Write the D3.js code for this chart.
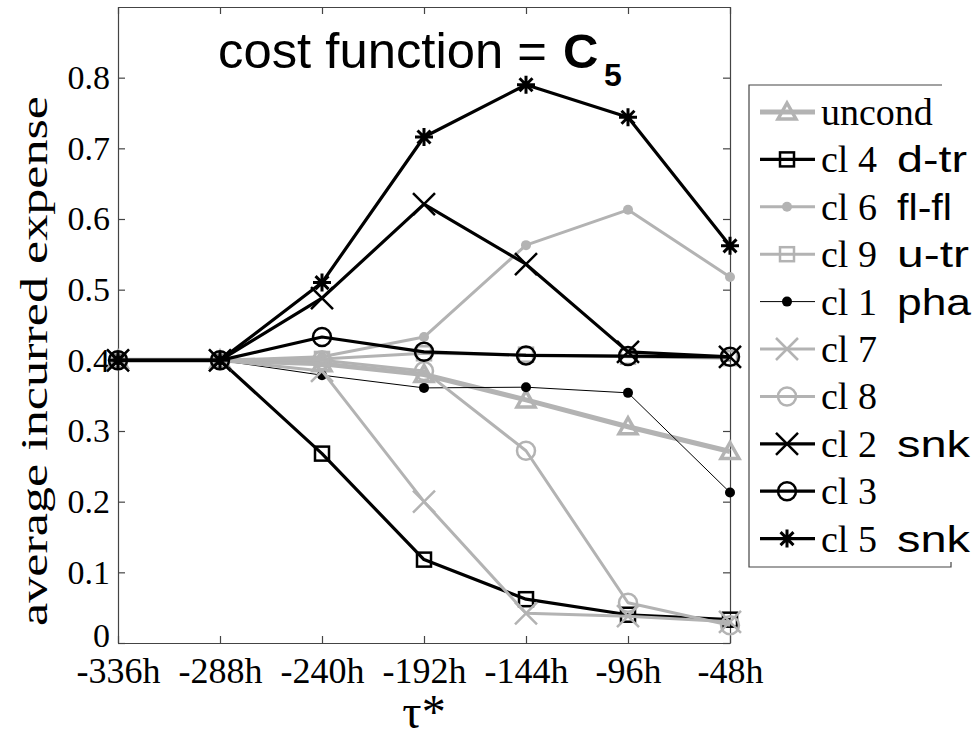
<!DOCTYPE html>
<meta charset="utf-8">
<head>
  <title>average incurred expense, cost function C5</title>
</head>

<style>
body { margin: 0; background: #fff; }
svg { display: block; }
</style>

<body>
  <div id="content">
    <svg width="980" height="741"></svg>
  </div>

  <script src="https://cdnjs.cloudflare.com/ajax/libs/d3/7.8.5/d3.min.js"></script>

  <script>
var width = 980, height = 741
var SERIF = '"Liberation Serif", "Times New Roman", Times, serif'
var SANS = '"Liberation Sans", Arial, Helvetica, sans-serif'

// lead times (hours before event)
var taus = [-336, -288, -240, -192, -144, -96, -48]
var tauLabels = ['-336h', '-288h', '-240h', '-192h', '-144h', '-96h', '-48h']
var yTicks = [0, 0.1, 0.2, 0.3, 0.4, 0.5, 0.6, 0.7, 0.8]

// one array per cluster
var uncond = [0.40, 0.40, 0.395, 0.38, 0.344, 0.306, 0.271]
var cl4 = [0.40, 0.40, 0.268, 0.118, 0.062, 0.040, 0.033]
var cl6 = [0.40, 0.40, 0.405, 0.433, 0.563, 0.613, 0.518]
var cl9 = [0.40, 0.40, 0.402, 0.410, 0.408, 0.405, 0.403]
var cl1 = [0.40, 0.40, 0.379, 0.361, 0.362, 0.354, 0.213]
var cl7 = [0.40, 0.40, 0.385, 0.200, 0.042, 0.038, 0.030]
var cl8 = [0.40, 0.40, 0.400, 0.385, 0.272, 0.057, 0.025]
var cl2 = [0.40, 0.40, 0.488, 0.621, 0.536, 0.412, 0.405]
var cl3 = [0.40, 0.40, 0.433, 0.412, 0.407, 0.406, 0.405]
var cl5 = [0.40, 0.40, 0.510, 0.716, 0.790, 0.744, 0.562]

var grey = '#b3b3b3'
var series = [
  {name: 'uncond', tag: '', values: uncond, color: grey, lw: 5, marker: 'triangle'},
  {name: 'cl 4', tag: 'd-tr', tagLen: 70, values: cl4, color: '#000', lw: 3.2, marker: 'square'},
  {name: 'cl 6', tag: 'fl-fl', tagLen: 55, values: cl6, color: grey, lw: 3, marker: 'dot'},
  {name: 'cl 9', tag: 'u-tr', tagLen: 72, values: cl9, color: grey, lw: 3, marker: 'square'},
  {name: 'cl 1', tag: 'pha', tagLen: 74, values: cl1, color: '#000', lw: 1, marker: 'dot'},
  {name: 'cl 7', tag: '', values: cl7, color: grey, lw: 3, marker: 'x'},
  {name: 'cl 8', tag: '', values: cl8, color: grey, lw: 3, marker: 'circle'},
  {name: 'cl 2', tag: 'snk', tagLen: 73, values: cl2, color: '#000', lw: 3.2, marker: 'x'},
  {name: 'cl 3', tag: '', values: cl3, color: '#000', lw: 3.2, marker: 'circle'},
  {name: 'cl 5', tag: 'snk', tagLen: 73, values: cl5, color: '#000', lw: 3.2, marker: 'star'}
]

var svg = d3.select('svg')

var x = d3.scaleLinear().domain([-336, -48]).range([118, 730])
var y = d3.scaleLinear().domain([0, 0.9]).range([643, 7])

// axes box, ticks pointing inward on all four sides
function styleAxis(g) {
  g.attr('font-family', null)
  g.select('.domain').attr('stroke', '#444').attr('stroke-width', 1.2)
  g.selectAll('.tick line').attr('stroke', '#444').attr('stroke-width', 1.2)
  g.selectAll('text').style('font-family', SERIF).attr('fill', '#000')
}

svg.append('g')
  .attr('transform', 'translate(0,643)')
  .call(d3.axisBottom(x).tickValues(taus).tickSize(-7).tickSizeOuter(0).tickPadding(14)
    .tickFormat(function(d, i) { return tauLabels[i] }))
  .call(styleAxis)
  .selectAll('text').style('font-size', '36px')

svg.append('g')
  .attr('transform', 'translate(0,7)')
  .call(d3.axisTop(x).tickValues(taus).tickSize(-7).tickSizeOuter(0).tickFormat(''))
  .call(styleAxis)

var yAxis = svg.append('g')
  .attr('transform', 'translate(118,0)')
  .call(d3.axisLeft(y).tickValues(yTicks).tickSize(-7).tickSizeOuter(0).tickPadding(8)
    .tickFormat(function(d) { return d === 0 ? '0' : d3.format('.1f')(d) }))
  .call(styleAxis)
yAxis.selectAll('text').style('font-size', '34px')
// the zero label sits a little higher so it clears the -336h label
yAxis.selectAll('.tick').filter(function(d) { return d === 0 }).select('text').attr('y', -7)

svg.append('g')
  .attr('transform', 'translate(730,0)')
  .call(d3.axisRight(y).tickValues(yTicks).tickSize(-7).tickSizeOuter(0).tickFormat(''))
  .call(styleAxis)

// markers
function drawMarker(g, type, color, cx, cy) {
  if (type === 'triangle') {
    g.append('path')
      .attr('d', 'M' + cx + ',' + (cy - 9) + 'L' + (cx + 9) + ',' + (cy + 7) + 'L' + (cx - 9) + ',' + (cy + 7) + 'Z')
      .attr('fill', 'none').attr('stroke', color).attr('stroke-width', 3.5)
  } else if (type === 'square') {
    g.append('rect').attr('x', cx - 7).attr('y', cy - 7).attr('width', 14).attr('height', 14)
      .attr('fill', 'none').attr('stroke', color).attr('stroke-width', 2.5)
  } else if (type === 'dot') {
    g.append('circle').attr('cx', cx).attr('cy', cy).attr('r', 5).attr('fill', color)
  } else if (type === 'circle') {
    g.append('circle').attr('cx', cx).attr('cy', cy).attr('r', 9)
      .attr('fill', 'none').attr('stroke', color).attr('stroke-width', 2.5)
  } else if (type === 'x') {
    var s = 11
    g.append('path')
      .attr('d', 'M' + (cx - s) + ',' + (cy - s) + 'L' + (cx + s) + ',' + (cy + s) +
        'M' + (cx - s) + ',' + (cy + s) + 'L' + (cx + s) + ',' + (cy - s))
      .attr('stroke', color).attr('stroke-width', 2.5)
  } else if (type === 'star') {
    var r = 9, d = r * 0.72
    g.append('path')
      .attr('d', 'M' + (cx - r) + ',' + cy + 'L' + (cx + r) + ',' + cy +
        'M' + cx + ',' + (cy - r) + 'L' + cx + ',' + (cy + r) +
        'M' + (cx - d) + ',' + (cy - d) + 'L' + (cx + d) + ',' + (cy + d) +
        'M' + (cx - d) + ',' + (cy + d) + 'L' + (cx + d) + ',' + (cy - d))
      .attr('stroke', color).attr('stroke-width', 3)
  }
}

var line = d3.line()
  .x(function(d, i) { return x(taus[i]) })
  .y(function(d) { return y(d) })

var plot = svg.append('g')
series.forEach(function(s) {
  var g = plot.append('g')
  g.append('path')
    .attr('d', line(s.values))
    .attr('fill', 'none')
    .attr('stroke', s.color)
    .attr('stroke-width', s.lw)
    .attr('stroke-linejoin', 'round')
  s.values.forEach(function(v, i) {
    drawMarker(g, s.marker, s.color, x(taus[i]), y(v))
  })
})

// title
svg.append('text').style('font-family', SANS)
  .attr('x', 218).attr('y', 68).style('font-size', '50px')
  .attr('textLength', 329).attr('lengthAdjust', 'spacingAndGlyphs')
  .text('cost function =')
svg.append('text').style('font-family', SANS)
  .attr('x', 563).attr('y', 68).style('font-size', '49px').style('font-weight', 'bold')
  .text('C')
svg.append('text').style('font-family', SANS)
  .attr('x', 604).attr('y', 86).style('font-size', '32px').style('font-weight', 'bold')
  .text('5')

// axis titles
svg.append('text').style('font-family', SERIF)
  .attr('transform', 'translate(47,361) rotate(-90)')
  .attr('text-anchor', 'middle').style('font-size', '38px')
  .attr('textLength', 530).attr('lengthAdjust', 'spacingAndGlyphs')
  .text('average incurred expense')

svg.append('text').style('font-family', SERIF)
  .attr('x', 424).attr('y', 728).attr('text-anchor', 'middle').style('font-size', '48px')
  .text('τ*')

// legend
var legend = svg.append('g')
legend.append('path')
  .attr('d', 'M942,85H749V567H951V562')
  .attr('fill', 'none').attr('stroke', '#444').attr('stroke-width', 1.2)

series.forEach(function(s, i) {
  var cy = 112 + i * 47.4
  var g = legend.append('g')
  g.append('line').attr('x1', 760).attr('x2', 815).attr('y1', cy).attr('y2', cy)
    .attr('stroke', s.color).attr('stroke-width', s.lw)
  drawMarker(g, s.marker, s.color, 787, cy)
  g.append('text').style('font-family', SERIF)
    .attr('x', 821).attr('y', cy + 13).style('font-size', '38px')
    .text(s.name)
  if (s.tag) {
    g.append('text').style('font-family', SANS)
      .attr('x', 897).attr('y', cy + 13).style('font-size', '37px')
      .attr('textLength', s.tagLen).attr('lengthAdjust', 'spacingAndGlyphs')
      .text(s.tag)
  }
})
  </script>
</body>
</html>
